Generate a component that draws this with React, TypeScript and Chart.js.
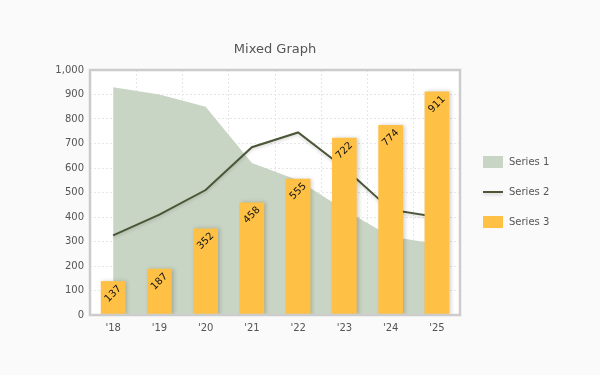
import React, { useEffect, useRef } from "react";
import { Chart, registerables } from "chart.js";

Chart.register(...registerables);

const categories = ["'18", "'19", "'20", "'21", "'22", "'23", "'24", "'25"];
const series1 = [930, 900, 850, 620, 550, 430, 320, 290];
const series2 = [325, 410, 510, 685, 745, 600, 430, 400];
const series3 = [137, 187, 352, 458, 555, 722, 774, 911];
const seriesNames = ["Series 1", "Series 2", "Series 3"];
const yTicksMin = 0;
const yTicksMax = 1000;
const yTicksStep = 100;
const titleText = "Mixed Graph";

const COL_AREA = "#c9d5c4";
const COL_LINE = "#4b5637";
const COL_BAR = "#ffc145";
const FONT = "'DejaVu Sans', Verdana, sans-serif";

const decorPlugin = {
  id: "decor",
  beforeDraw(chart: any) {
    const { ctx, chartArea: a } = chart;
    ctx.save();
    ctx.fillStyle = "#fafafa";
    ctx.fillRect(0, 0, chart.width, chart.height);
    ctx.fillStyle = "#ffffff";
    ctx.fillRect(a.left, a.top, a.right - a.left, a.bottom - a.top);
    ctx.restore();
  },
  beforeDatasetDraw(chart: any, args: any) {
    const ctx = chart.ctx;
    ctx.save();
    const ds = chart.data.datasets[args.index];
    if (ds.type === "bar") {
      ctx.shadowColor = "rgba(0,0,0,0.18)";
      ctx.shadowBlur = 4;
      ctx.shadowOffsetX = 2;
      ctx.shadowOffsetY = 0;
    } else if (args.index === 1) {
      ctx.shadowColor = "rgba(0,0,0,0.15)";
      ctx.shadowBlur = 3;
      ctx.shadowOffsetX = 0;
      ctx.shadowOffsetY = 2;
    }
  },
  afterDatasetDraw(chart: any) {
    chart.ctx.restore();
  },
  afterDatasetsDraw(chart: any) {
    const { ctx, chartArea: a } = chart;
    // bar value labels
    const meta = chart.getDatasetMeta(2);
    ctx.save();
    ctx.font = "10px " + FONT;
    ctx.fillStyle = "#111";
    ctx.textAlign = "center";
    ctx.textBaseline = "middle";
    meta.data.forEach((el: any, i: number) => {
      ctx.save();
      ctx.translate(el.x, el.y + 12.5);
      ctx.rotate(-Math.PI / 4);
      ctx.fillText(String(series3[i]), 0, 0);
      ctx.restore();
    });
    ctx.restore();
    // plot border
    ctx.save();
    ctx.strokeStyle = "#cccccc";
    ctx.lineWidth = 2.5;
    ctx.strokeRect(a.left, a.top, a.right - a.left, a.bottom - a.top);
    ctx.restore();
  },
  afterDraw(chart: any) {
    const { ctx, chartArea: a } = chart;
    ctx.save();
    ctx.font = "13px " + FONT;
    ctx.fillStyle = "#555";
    ctx.textAlign = "center";
    ctx.textBaseline = "middle";
    ctx.fillText(titleText, (a.left + a.right) / 2, 50);
    // legend
    const lx = 483;
    const ys = [162, 192, 222];
    ctx.font = "10px " + FONT;
    ctx.textAlign = "left";
    ys.forEach((y, i) => {
      if (i === 0) {
        ctx.fillStyle = COL_AREA;
        ctx.fillRect(lx, y - 6, 20, 12);
      } else if (i === 1) {
        ctx.save();
        ctx.shadowColor = "rgba(0,0,0,0.15)";
        ctx.shadowBlur = 3;
        ctx.shadowOffsetY = 2;
        ctx.strokeStyle = COL_LINE;
        ctx.lineWidth = 2;
        ctx.beginPath();
        ctx.moveTo(lx, y);
        ctx.lineTo(lx + 20, y);
        ctx.stroke();
        ctx.restore();
      } else {
        ctx.fillStyle = COL_BAR;
        ctx.fillRect(lx, y - 6, 20, 12);
      }
      ctx.fillStyle = "#555";
      ctx.fillText(seriesNames[i], 509, y + 0.5);
    });
    ctx.restore();
  },
};

export default function App() {
  const ref = useRef<HTMLCanvasElement | null>(null);
  useEffect(() => {
    if (!ref.current) return;
    const chart = new Chart(ref.current, {
      type: "bar",
      data: {
        labels: categories,
        datasets: [
          {
            type: "line",
            label: seriesNames[0],
            data: series1,
            backgroundColor: COL_AREA,
            borderWidth: 0,
            borderColor: "rgba(0,0,0,0)",
            fill: "origin",
            pointRadius: 0,
            tension: 0,
            order: 3,
          } as any,
          {
            type: "line",
            label: seriesNames[1],
            data: series2,
            borderColor: COL_LINE,
            borderWidth: 2,
            fill: false,
            pointRadius: 0,
            tension: 0,
            order: 2,
          } as any,
          {
            type: "bar",
            label: seriesNames[2],
            data: series3,
            backgroundColor: COL_BAR,
            barThickness: 24,
            order: 1,
          } as any,
        ],
      },
      options: {
        responsive: false,
        animation: false,
        events: [],
        layout: { padding: { left: 0, top: 70, right: 140, bottom: 0 } },
        plugins: {
          legend: { display: false },
          title: { display: false },
          tooltip: { enabled: false },
        },
        scales: {
          x: {
            offset: true,
            grid: {
              display: true,
              offset: true,
              color: "#e6e6e6",
              drawTicks: false,
            },
            border: { display: false, dash: [2, 2] },
            ticks: {
              font: { family: FONT, size: 10 },
              color: "#555",
              padding: 7,
              maxRotation: 0,
            },
            afterFit(scale: any) {
              scale.height = 60;
            },
          },
          y: {
            min: yTicksMin,
            max: yTicksMax,
            grid: { color: "#e6e6e6", drawTicks: false },
            border: { display: false, dash: [2, 2] },
            ticks: {
              stepSize: yTicksStep,
              font: { family: FONT, size: 10 },
              color: "#555",
              padding: 6,
            },
            afterFit(scale: any) {
              scale.width = 90;
            },
          },
        },
      } as any,
      plugins: [decorPlugin],
    });
    return () => chart.destroy();
  }, []);
  return (
    <div style={{ position: "absolute", left: 0, top: 0, width: 600, height: 375, background: "#fafafa" }}>
      <canvas ref={ref} width={600} height={375} style={{ display: "block" }} />
    </div>
  );
}
